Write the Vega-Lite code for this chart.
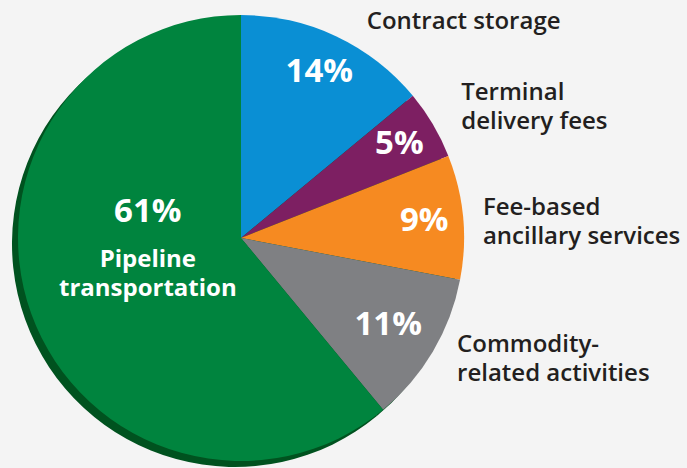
{
  "$schema": "https://vega.github.io/schema/vega-lite/v6.json",
  "width": 482,
  "height": 460,
  "autosize": {"type": "none"},
  "padding": {"left": 0, "top": 8, "right": 205, "bottom": 0},
  "background": "#f4f4f4",
  "config": {"view": {"stroke": null}, "text": {"font": "Open Sans"}},
  "data": {
    "values": [
      {"idx": 1, "category": "Contract storage", "label": "Contract storage", "share": 14},
      {"idx": 2, "category": "Terminal delivery fees", "label": "Terminal\ndelivery fees", "share": 5},
      {"idx": 3, "category": "Fee-based ancillary services", "label": "Fee-based\nancillary services", "share": 9},
      {"idx": 4, "category": "Commodity-related activities", "label": "Commodity-\nrelated activities", "share": 11},
      {"idx": 5, "category": "Pipeline transportation", "label": "Pipeline\ntransportation", "share": 61}
    ]
  },
  "transform": [{"calculate": "datum.share + '%'", "as": "pct"}],
  "encoding": {
    "theta": {"field": "share", "type": "quantitative", "stack": true},
    "order": {"field": "idx", "type": "quantitative"}
  },
  "layer": [
    {"mark": {"type": "arc", "radius": 223, "color": "#00521f", "xOffset": -6, "yOffset": 6}},
    {
      "mark": {"type": "arc", "radius": 223},
      "encoding": {
        "color": {
          "field": "category", "type": "nominal", "legend": null,
          "scale": {
            "domain": ["Contract storage", "Terminal delivery fees", "Fee-based ancillary services", "Commodity-related activities", "Pipeline transportation"],
            "range": ["#0a8fd4", "#7d1f62", "#f68a21", "#7f8083", "#00843e"]
          }
        }
      }
    },
    {
      "mark": {"type": "text", "radius": 184, "fontSize": 33, "fontWeight": "bold", "color": "white", "align": "center", "baseline": "middle"},
      "encoding": {"text": {"condition": {"test": "datum.idx <= 3", "field": "pct"}, "value": ""}}
    },
    {
      "mark": {"type": "text", "radius": 171, "fontSize": 33, "fontWeight": "bold", "color": "white", "align": "center", "baseline": "middle"},
      "encoding": {"text": {"condition": {"test": "datum.idx == 4", "field": "pct"}, "value": ""}}
    },
    {
      "mark": {"type": "text", "radius": 99, "dy": -60, "fontSize": 33, "fontWeight": "bold", "color": "white", "align": "center", "baseline": "middle"},
      "encoding": {"text": {"condition": {"test": "datum.idx == 5", "field": "pct"}, "value": ""}}
    },
    {
      "mark": {"type": "text", "radius": 99, "dy": -12, "fontSize": 24, "fontWeight": "bold", "color": "white", "align": "center", "baseline": "middle", "lineBreak": "\n", "lineHeight": 29},
      "encoding": {"text": {"condition": {"test": "datum.idx == 5", "field": "label"}, "value": ""}}
    },
    {
      "mark": {"type": "text", "radius": 239, "dx": 24, "fontSize": 24, "fontWeight": 600, "color": "#231f20", "align": "left", "baseline": "middle", "lineBreak": "\n", "lineHeight": 29},
      "encoding": {"text": {"condition": {"test": "datum.idx == 1", "field": "label"}, "value": ""}}
    },
    {
      "mark": {"type": "text", "radius": 257, "dx": -1, "dy": -14, "fontSize": 24, "fontWeight": 600, "color": "#231f20", "align": "left", "baseline": "middle", "lineBreak": "\n", "lineHeight": 29},
      "encoding": {"text": {"condition": {"test": "datum.idx == 2", "field": "label"}, "value": ""}}
    },
    {
      "mark": {"type": "text", "radius": 243, "dy": -7, "fontSize": 24, "fontWeight": 600, "color": "#231f20", "align": "left", "baseline": "middle", "lineBreak": "\n", "lineHeight": 29},
      "encoding": {"text": {"condition": {"test": "datum.idx == 3", "field": "label"}, "value": ""}}
    },
    {
      "mark": {"type": "text", "radius": 251, "dy": -21, "fontSize": 24, "fontWeight": 600, "color": "#231f20", "align": "left", "baseline": "middle", "lineBreak": "\n", "lineHeight": 29},
      "encoding": {"text": {"condition": {"test": "datum.idx == 4", "field": "label"}, "value": ""}}
    }
  ]
}
